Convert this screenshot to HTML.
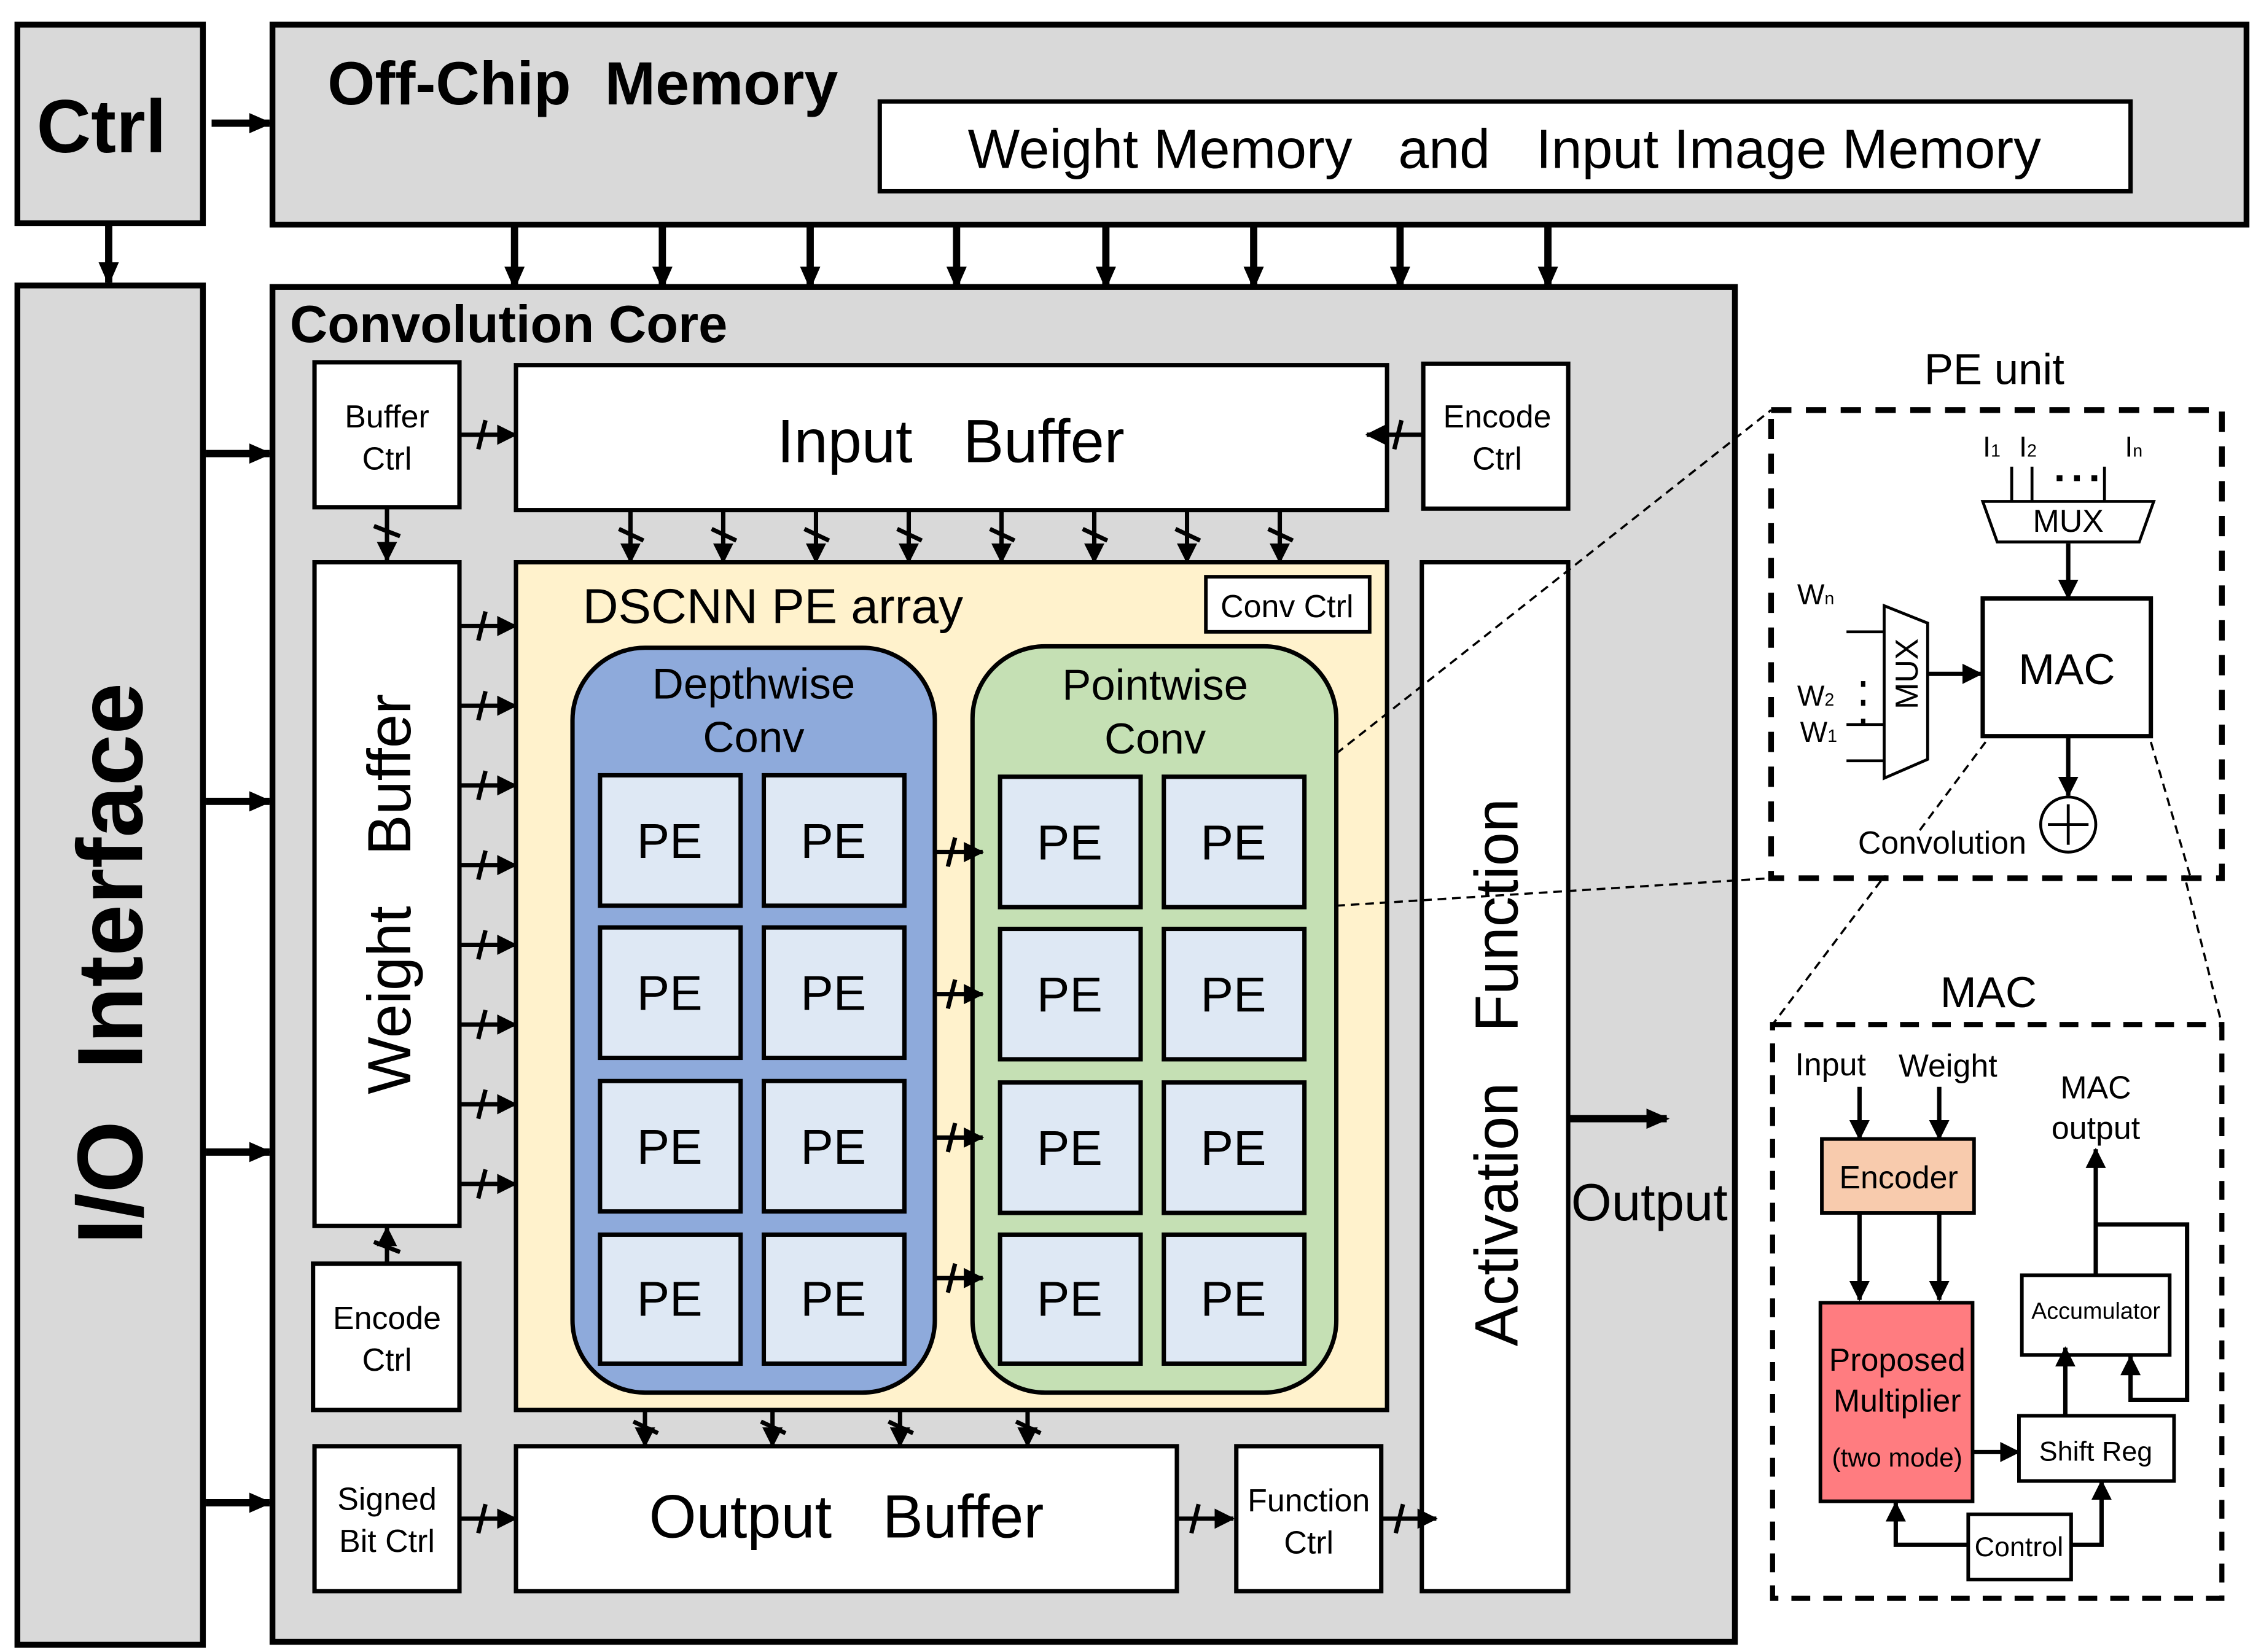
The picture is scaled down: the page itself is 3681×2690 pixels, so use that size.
<!DOCTYPE html>
<html><head><meta charset="utf-8"><style>
html,body{margin:0;padding:0;background:#fff;}
svg{display:block;}
text{font-family:"Liberation Sans",Arial,sans-serif;fill:#000;}
</style></head><body>
<svg width="3681" height="2690" viewBox="0 0 1560 1140" xmlns="http://www.w3.org/2000/svg">
<defs>
<marker id="a" markerUnits="userSpaceOnUse" markerWidth="16" markerHeight="16" refX="14" refY="8" orient="auto"><path d="M0,1 L16,8 L0,15 Z" fill="#000"/></marker>
<marker id="b" markerUnits="userSpaceOnUse" markerWidth="14" markerHeight="14" refX="13" refY="7" orient="auto"><path d="M0,0 L14,7 L0,14 Z" fill="#000"/></marker>
</defs>
<rect width="1560" height="1140" fill="#fff"/>
<!-- Ctrl -->
<rect x="12" y="17" width="128" height="137" fill="#d9d9d9" stroke="#000" stroke-width="4"/>
<text x="70" y="105" font-size="52" font-weight="bold" text-anchor="middle">Ctrl</text>
<line x1="146" y1="85" x2="186" y2="85" stroke="#000" stroke-width="5" marker-end="url(#a)"/>
<line x1="75" y1="155" x2="75" y2="195" stroke="#000" stroke-width="5" marker-end="url(#a)"/>
<!-- Off chip -->
<rect x="188" y="17" width="1362" height="138" fill="#d9d9d9" stroke="#000" stroke-width="4"/>
<text x="226" y="72" font-size="42" font-weight="bold" xml:space="preserve">Off-Chip  Memory</text>
<rect x="607" y="70" width="863" height="62" fill="#fff" stroke="#000" stroke-width="3"/>
<text x="1038" y="116" font-size="38" text-anchor="middle" xml:space="preserve">Weight Memory   and   Input Image Memory</text>
<!-- IO -->
<rect x="12" y="197" width="128" height="938" fill="#d9d9d9" stroke="#000" stroke-width="4"/>
<text transform="translate(98,665) rotate(-90)" font-size="64" font-weight="bold" text-anchor="middle" xml:space="preserve">I/O  Interface</text>
<g stroke="#000" stroke-width="5">
<line x1="142" y1="313" x2="186" y2="313" marker-end="url(#a)"/>
<line x1="142" y1="553" x2="186" y2="553" marker-end="url(#a)"/>
<line x1="142" y1="795" x2="186" y2="795" marker-end="url(#a)"/>
<line x1="142" y1="1037" x2="186" y2="1037" marker-end="url(#a)"/>
<line x1="355" y1="156" x2="355" y2="198" marker-end="url(#a)"/>
<line x1="457" y1="156" x2="457" y2="198" marker-end="url(#a)"/>
<line x1="559" y1="156" x2="559" y2="198" marker-end="url(#a)"/>
<line x1="660" y1="156" x2="660" y2="198" marker-end="url(#a)"/>
<line x1="763" y1="156" x2="763" y2="198" marker-end="url(#a)"/>
<line x1="865" y1="156" x2="865" y2="198" marker-end="url(#a)"/>
<line x1="966" y1="156" x2="966" y2="198" marker-end="url(#a)"/>
<line x1="1068" y1="156" x2="1068" y2="198" marker-end="url(#a)"/>
</g>
<!-- Core -->
<rect x="188" y="198" width="1009" height="935" fill="#d9d9d9" stroke="#000" stroke-width="4"/>
<text x="200" y="236" font-size="36" font-weight="bold">Convolution Core</text>
<g fill="#fff" stroke="#000" stroke-width="3">
<rect x="217" y="250" width="100" height="100"/>
<rect x="356" y="252" width="601" height="100"/>
<rect x="982" y="251" width="100" height="100"/>
<rect x="217" y="388" width="100" height="458"/>
<rect x="216" y="872" width="101" height="101"/>
<rect x="217" y="998" width="100" height="100"/>
<rect x="356" y="998" width="456" height="100"/>
<rect x="853" y="998" width="100" height="100"/>
<rect x="981" y="388" width="101" height="710"/>
</g>
<g font-size="22" text-anchor="middle">
<text x="267" y="295">Buffer</text><text x="267" y="324">Ctrl</text>
<text x="1033" y="295">Encode</text><text x="1033" y="324">Ctrl</text>
<text x="267" y="917">Encode</text><text x="267" y="946">Ctrl</text>
<text x="267" y="1042">Signed</text><text x="267" y="1071">Bit Ctrl</text>
<text x="903" y="1043">Function</text><text x="903" y="1072">Ctrl</text>
</g>
<text x="656" y="319" font-size="42" text-anchor="middle" xml:space="preserve">Input   Buffer</text>
<text x="584" y="1061" font-size="42" text-anchor="middle" xml:space="preserve">Output   Buffer</text>
<text transform="translate(283,617) rotate(-90)" font-size="42" text-anchor="middle" xml:space="preserve">Weight   Buffer</text>
<text transform="translate(1047,740) rotate(-90)" font-size="42" text-anchor="middle" xml:space="preserve">Activation   Function</text>
<!-- PE array -->
<rect x="356" y="388" width="601" height="585" fill="#fff2cc" stroke="#000" stroke-width="3"/>
<text x="402" y="430" font-size="34">DSCNN PE array</text>
<rect x="832" y="398" width="113" height="38" fill="#fff" stroke="#000" stroke-width="2.5"/>
<text x="888" y="426" font-size="22" text-anchor="middle">Conv Ctrl</text>
<rect x="395" y="447" width="250" height="514" rx="50" fill="#8eaadb" stroke="#000" stroke-width="3"/>
<rect x="671" y="446" width="251" height="515" rx="50" fill="#c5e0b4" stroke="#000" stroke-width="3"/>
<g font-size="30" text-anchor="middle">
<text x="520" y="482">Depthwise</text><text x="520" y="519">Conv</text>
<text x="797" y="483">Pointwise</text><text x="797" y="520">Conv</text>
</g>
<g fill="#dee8f4" stroke="#000" stroke-width="3">
<rect x="414" y="535" width="97" height="90"/><rect x="527" y="535" width="97" height="90"/>
<rect x="414" y="640" width="97" height="90"/><rect x="527" y="640" width="97" height="90"/>
<rect x="414" y="746" width="97" height="90"/><rect x="527" y="746" width="97" height="90"/>
<rect x="414" y="852" width="97" height="89"/><rect x="527" y="852" width="97" height="89"/>
<rect x="690" y="536" width="97" height="90"/><rect x="803" y="536" width="97" height="90"/>
<rect x="690" y="641" width="97" height="90"/><rect x="803" y="641" width="97" height="90"/>
<rect x="690" y="747" width="97" height="90"/><rect x="803" y="747" width="97" height="90"/>
<rect x="690" y="852" width="97" height="89"/><rect x="803" y="852" width="97" height="89"/>
</g>
<g font-size="34" text-anchor="middle">
<text x="462" y="592">PE</text><text x="575" y="592">PE</text>
<text x="462" y="697">PE</text><text x="575" y="697">PE</text>
<text x="462" y="803">PE</text><text x="575" y="803">PE</text>
<text x="462" y="908">PE</text><text x="575" y="908">PE</text>
<text x="738" y="593">PE</text><text x="851" y="593">PE</text>
<text x="738" y="698">PE</text><text x="851" y="698">PE</text>
<text x="738" y="804">PE</text><text x="851" y="804">PE</text>
<text x="738" y="908">PE</text><text x="851" y="908">PE</text>
</g>
<!-- bus arrows -->
<g stroke="#000" stroke-width="3">
<line x1="318" y1="300" x2="356" y2="300" marker-end="url(#b)"/><line x1="330" y1="310" x2="335" y2="290"/>
<line x1="981" y1="300" x2="943" y2="300" marker-end="url(#b)"/><line x1="962" y1="310" x2="967" y2="290"/>
<line x1="267" y1="351" x2="267" y2="387" marker-end="url(#b)"/><line x1="258" y1="363" x2="276" y2="370"/>
<line x1="267" y1="872" x2="267" y2="847" marker-end="url(#b)"/><line x1="258" y1="857" x2="276" y2="864"/>
<line x1="318" y1="1048" x2="356" y2="1048" marker-end="url(#b)"/><line x1="330" y1="1058" x2="335" y2="1038"/>
<line x1="812" y1="1048" x2="851" y2="1048" marker-end="url(#b)"/><line x1="822" y1="1058" x2="827" y2="1038"/>
<line x1="953" y1="1048" x2="991" y2="1048" marker-end="url(#b)"/><line x1="963" y1="1058" x2="968" y2="1038"/>
</g>
<g stroke="#000" stroke-width="3">
<g id="vd"><line x1="435" y1="352" x2="435" y2="388" marker-end="url(#b)"/><line x1="427" y1="365" x2="444" y2="373"/></g>
<use href="#vd" x="64"/><use href="#vd" x="128"/><use href="#vd" x="192"/><use href="#vd" x="256"/><use href="#vd" x="320"/><use href="#vd" x="384"/><use href="#vd" x="448"/>
<g id="vo"><line x1="445" y1="973" x2="445" y2="998" marker-end="url(#b)"/><line x1="437" y1="981" x2="454" y2="989"/></g>
<use href="#vo" x="88"/><use href="#vo" x="176"/><use href="#vo" x="264"/>
<g id="hw"><line x1="318" y1="432" x2="356" y2="432" marker-end="url(#b)"/><line x1="330" y1="442" x2="335" y2="422"/></g>
<use href="#hw" y="55"/><use href="#hw" y="110"/><use href="#hw" y="165"/><use href="#hw" y="220"/><use href="#hw" y="275"/><use href="#hw" y="330"/><use href="#hw" y="385"/>
<g id="hp"><line x1="645" y1="588" x2="678" y2="588" marker-end="url(#b)"/><line x1="654" y1="598" x2="659" y2="578"/></g>
<use href="#hp" y="98"/><use href="#hp" y="197"/><use href="#hp" y="294"/>
</g>
<line x1="1082" y1="772" x2="1150" y2="772" stroke="#000" stroke-width="5" marker-end="url(#a)"/>
<text x="1138" y="842" font-size="36" text-anchor="middle">Output</text>
<!-- zoom dashed lines -->
<g stroke="#000" stroke-width="1.5" stroke-dasharray="6,4" fill="none">
<line x1="922" y1="520" x2="1222" y2="283"/>
<line x1="922" y1="625" x2="1222" y2="606"/>
<line x1="1370" y1="512" x2="1223" y2="707"/>
<line x1="1484" y1="512" x2="1533" y2="707"/>
</g>
<!-- PE unit -->
<text x="1376" y="265" font-size="30" text-anchor="middle">PE unit</text>
<rect x="1222" y="283" width="311" height="323" fill="none" stroke="#000" stroke-width="4" stroke-dasharray="14,10"/>
<rect x="1224" y="285" width="307" height="319" fill="#fff"/>
<line x1="1370" y1="512" x2="1323" y2="575" stroke="#000" stroke-width="1.5" stroke-dasharray="6,4"/>
<line x1="1484" y1="512" x2="1511" y2="604" stroke="#000" stroke-width="1.5" stroke-dasharray="6,4"/>
<g stroke="#000" stroke-width="2">
<line x1="1388" y1="322" x2="1388" y2="346"/><line x1="1402" y1="322" x2="1402" y2="346"/><line x1="1452" y1="322" x2="1452" y2="346"/>
<path d="M1368,346 L1486,346 L1476,374 L1378,374 Z" fill="#fff"/>
<path d="M1300,418 L1330,430 L1330,524 L1300,537 Z" fill="#fff"/>
<line x1="1274" y1="436" x2="1300" y2="436"/><line x1="1274" y1="500" x2="1300" y2="500"/><line x1="1274" y1="525" x2="1300" y2="525"/>
<rect x="1368" y="413" width="116" height="95" fill="#fff" stroke-width="3"/>
<circle cx="1427" cy="569" r="19" fill="#fff"/>
<line x1="1413" y1="569" x2="1441" y2="569"/><line x1="1427" y1="555" x2="1427" y2="583"/>
</g>
<g stroke="#000" stroke-width="3">
<line x1="1427" y1="375" x2="1427" y2="413" marker-end="url(#b)"/>
<line x1="1330" y1="465" x2="1367" y2="465" marker-end="url(#b)"/>
<line x1="1427" y1="508" x2="1427" y2="549" marker-end="url(#b)"/>
</g>
<text x="1427" y="367" font-size="22" text-anchor="middle">MUX</text>
<text transform="translate(1323,465) rotate(-90)" font-size="22" text-anchor="middle">MUX</text>
<text x="1426" y="472" font-size="30" text-anchor="middle">MAC</text>
<text x="1368" y="315" font-size="20">I<tspan font-size="12">1</tspan></text>
<text x="1393" y="315" font-size="20">I<tspan font-size="12">2</tspan></text>
<text x="1466" y="315" font-size="20">I<tspan font-size="12">n</tspan></text>
<g fill="#000"><rect x="1419" y="328" width="4" height="4"/><rect x="1431" y="328" width="4" height="4"/><rect x="1443" y="328" width="4" height="4"/></g>
<text x="1240" y="417" font-size="20">W<tspan font-size="12">n</tspan></text>
<text x="1240" y="487" font-size="20">W<tspan font-size="12">2</tspan></text>
<text x="1242" y="512" font-size="20">W<tspan font-size="12">1</tspan></text>
<g fill="#000"><rect x="1284" y="470" width="3" height="4"/><rect x="1284" y="483" width="3" height="4"/><rect x="1284" y="496" width="3" height="4"/></g>
<text x="1340" y="589" font-size="22" text-anchor="middle">Convolution</text>
<!-- MAC detail -->
<text x="1372" y="695" font-size="30" text-anchor="middle">MAC</text>
<rect x="1223" y="707" width="310" height="396" fill="none" stroke="#000" stroke-width="3.5" stroke-dasharray="13,9"/>
<g font-size="22" text-anchor="middle">
<text x="1263" y="742">Input</text><text x="1344" y="743">Weight</text>
<text x="1446" y="758">MAC</text><text x="1446" y="786">output</text>
</g>
<g stroke="#000" stroke-width="2.5">
<rect x="1257" y="786" width="105" height="51" fill="#f8cbad"/>
<rect x="1256" y="899" width="105" height="137" fill="#ff7c80"/>
<rect x="1393" y="977" width="107" height="45" fill="#fff"/>
<rect x="1395" y="880" width="102" height="55" fill="#fff"/>
<rect x="1358" y="1045" width="71" height="45" fill="#fff"/>
</g>
<g stroke="#000" stroke-width="3" fill="none">
<line x1="1283" y1="750" x2="1283" y2="786" marker-end="url(#b)"/>
<line x1="1338" y1="750" x2="1338" y2="786" marker-end="url(#b)"/>
<line x1="1283" y1="837" x2="1283" y2="897" marker-end="url(#b)"/>
<line x1="1338" y1="837" x2="1338" y2="897" marker-end="url(#b)"/>
<line x1="1361" y1="1002" x2="1393" y2="1002" marker-end="url(#b)"/>
<line x1="1425" y1="977" x2="1425" y2="930" marker-end="url(#b)"/>
<line x1="1446" y1="880" x2="1446" y2="793" marker-end="url(#b)"/>
<polyline points="1446,845 1509,845 1509,966 1470,966 1470,936" marker-end="url(#b)"/>
<polyline points="1358,1066 1308,1066 1308,1037" marker-end="url(#b)"/>
<polyline points="1429,1066 1450,1066 1450,1022" marker-end="url(#b)"/>
</g>
<g text-anchor="middle">
<text x="1310" y="820" font-size="22">Encoder</text>
<text x="1309" y="946" font-size="22">Proposed</text>
<text x="1309" y="974" font-size="22">Multiplier</text>
<text x="1309" y="1012" font-size="18">(two mode)</text>
<text x="1446" y="1008" font-size="19">Shift Reg</text>
<text x="1446" y="910" font-size="16">Accumulator</text>
<text x="1393" y="1074" font-size="19">Control</text>
</g>
</svg>
</body></html>
